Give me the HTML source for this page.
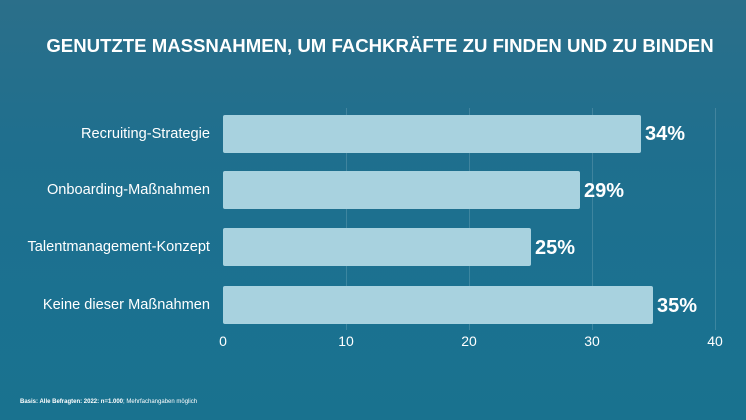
<!DOCTYPE html>
<html><head><meta charset="utf-8"><style>
body{margin:0;width:746px;height:420px;overflow:hidden;font-family:"Liberation Sans",sans-serif}
#c{position:relative;width:746px;height:420px;background:linear-gradient(180deg,#2b6f8a 0%,#1f6f8e 35%,#1b7190 70%,#19728f 100%)}
.t{position:absolute;color:#fff}
.bar{position:absolute;left:223px;height:38px;background:#a8d2df;border-radius:2px}
.lab{position:absolute;right:536px;color:#fff;font-size:14.6px;text-align:right;white-space:nowrap}
.v{position:absolute;color:#fff;font-weight:bold;font-size:20px}
.g{position:absolute;top:108px;width:1px;height:222px;background:rgba(255,255,255,0.15)}
.x{position:absolute;top:333px;color:#fff;font-size:14px;transform:translateX(-50%)}
</style></head><body><div id="c">
<div class="t" style="left:0;width:760px;text-align:center;top:35px;font-size:18.6px;font-weight:bold">GENUTZTE MASSNAHMEN, UM FACHKRÄFTE ZU FINDEN UND ZU BINDEN</div>
<div class="g" style="left:346px"></div><div class="g" style="left:469px"></div><div class="g" style="left:592px"></div><div class="g" style="left:715px"></div>
<div class="bar" style="top:115px;width:418px"></div>
<div class="bar" style="top:171px;width:357px"></div>
<div class="bar" style="top:228px;width:308px"></div>
<div class="bar" style="top:286px;width:430px"></div>
<div class="lab" style="top:126px">Recruiting-Strategie</div>
<div class="lab" style="top:182px">Onboarding-Maßnahmen</div>
<div class="lab" style="top:239px">Talentmanagement-Konzept</div>
<div class="lab" style="top:297px">Keine dieser Maßnahmen</div>
<div class="v" style="left:645px;top:123px">34%</div>
<div class="v" style="left:584px;top:180px">29%</div>
<div class="v" style="left:535px;top:237px">25%</div>
<div class="v" style="left:657px;top:295px">35%</div>
<div class="x" style="left:223px">0</div><div class="x" style="left:346px">10</div><div class="x" style="left:469px">20</div><div class="x" style="left:592px">30</div><div class="x" style="left:715px">40</div>
<div class="t" style="left:20px;top:399px;font-size:6px"><b>Basis: Alle Befragten: 2022: n=1.000</b>; Mehrfachangaben möglich</div>
</div></body></html>
